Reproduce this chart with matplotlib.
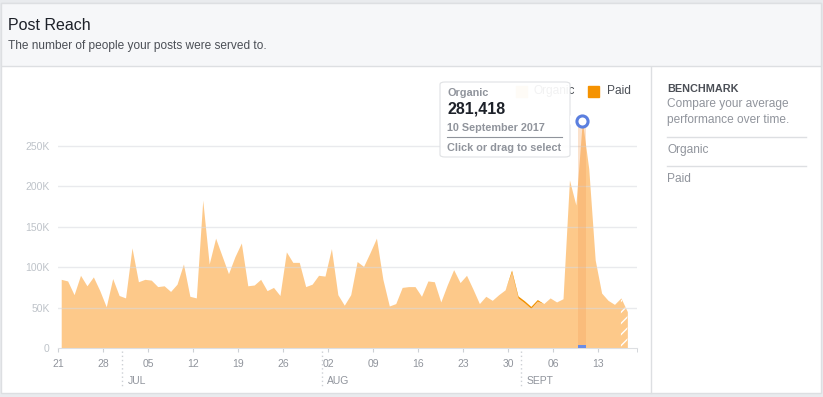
import matplotlib
matplotlib.use("Agg")
import matplotlib.pyplot as plt
import matplotlib.transforms as mtransforms
from matplotlib.patches import Rectangle, FancyBboxPatch, Polygon
import numpy as np
import pandas as pd

plt.rcParams['font.family'] = ['Liberation Sans', 'DejaVu Sans']

# daily post reach, in thousands (21 Jun 2017 - 17 Sep 2017)
organic = [85, 83, 66, 90, 77, 88, 71, 51, 86, 65,
           62, 124, 82, 85, 84, 76, 77, 70, 79, 104,
           64, 62, 183, 104, 136, 114, 92, 113, 130, 77,
           78, 85, 71, 75, 65, 119, 106, 106, 76, 79,
           90, 89, 123, 66, 53, 66, 107, 101, 118, 136,
           85, 52, 55, 75, 76, 76, 64, 83, 82, 57,
           78, 97, 81, 90, 73, 55, 64, 59, 66, 72,
           94, 62, 56, 49, 58, 55, 62, 57, 61, 208,
           177, 281.418, 222, 109, 68, 59, 54, 62, 45]
paid = [0] * 89
for i, v in zip(range(70, 75), [2.5, 2.5, 2.5, 2.5, 2.0]):
    paid[i] = v

tick_labels = ['21', '28', '05', '12', '19', '26', '02', '09', '16', '23', '30', '06', '13']
months = ['JUL', 'AUG', 'SEPT']
month_starts = ['2017-07-01', '2017-08-01', '2017-09-01']
yticks = [0, 50, 100, 150, 200, 250]
ylabels = ['0', '50K', '100K', '150K', '200K', '250K']

W, H = 823, 397
fig = plt.figure(figsize=(W / 100, H / 100), dpi=100)
fig.patch.set_facecolor('white')


def fx(x):
    return x / W


def fy(y):
    return 1 - y / H


# page frame
fig.patches.append(Rectangle((0, 0), 1, 1, transform=fig.transFigure, color='#e9ebee', zorder=-10))
fig.patches.append(Rectangle((fx(1), fy(393)), fx(820), (393 - 3) / H, transform=fig.transFigure,
                             facecolor='white', edgecolor='#dddfe2', lw=1, zorder=-9))
fig.patches.append(Rectangle((fx(1), fy(66)), fx(820), (66 - 3) / H, transform=fig.transFigure,
                             facecolor='#f6f7f9', edgecolor='#dddfe2', lw=1, zorder=-8))
fig.lines.append(plt.Line2D([fx(651), fx(651)], [fy(67), fy(393)], transform=fig.transFigure,
                            color='#dddfe2', lw=1))

fig.text(fx(8), fy(26), 'Post Reach', fontsize=11.5, color='#1d2129', va='center')
fig.text(fx(8), fy(46), 'The number of people your posts were served to.', fontsize=8.6,
         color='#4b4f56', va='center')

# benchmark panel
fig.text(fx(667), fy(89), 'BENCHMARK', fontsize=7.8, weight='bold', color='#4b4f56', va='center')
fig.text(fx(667), fy(104), 'Compare your average', fontsize=8.6, color='#90949c', va='center')
fig.text(fx(667), fy(120), 'performance over time.', fontsize=8.6, color='#90949c', va='center')
fig.lines.append(plt.Line2D([fx(667), fx(806)], [fy(137), fy(137)], transform=fig.transFigure,
                            color='#dddfe2', lw=1))
fig.text(fx(667), fy(150), 'Organic', fontsize=8.6, color='#90949c', va='center')
fig.lines.append(plt.Line2D([fx(667), fx(806)], [fy(166), fy(166)], transform=fig.transFigure,
                            color='#dddfe2', lw=1))
fig.text(fx(667), fy(179), 'Paid', fontsize=8.6, color='#90949c', va='center')

# chart
ax = fig.add_axes([fx(58), fy(348), (637 - 58) / W, (348 - 100) / H])
dates = pd.date_range('2017-06-21 12:00', periods=len(organic), freq='D')
org = np.array(organic) * 1000
top = org + np.array(paid) * 1000
light = '#fdc98a'
ax.fill_between(dates, 0, org, color=light, lw=0, zorder=2)
ax.fill_between(dates, org, top, color='#f29100', lw=0, zorder=3)
ax.fill_between(dates[-2:], 0, org[-2:], facecolor='none', edgecolor='white', hatch='///',
                lw=0, zorder=3)

# hover highlight for 10 Sep
hl = dates[81]
ax.bar(hl, org[81], width=1.3, color='#f5a15a', alpha=0.3, zorder=4, lw=0)
ax.bar(hl, 3500, width=1.3, color='#6a8ce6', zorder=5, lw=0, clip_on=False)
ax.plot([hl], [org[81]], 'o', ms=8, mfc='white', mec='#5b7fdf', mew=2.2, zorder=6, clip_on=False)

ax.set_xlim(pd.Timestamp('2017-06-21'), pd.Timestamp('2017-09-19'))
ax.set_ylim(0, 307000)
ticks = pd.date_range('2017-06-21', periods=len(tick_labels), freq='7D')
ax.set_xticks(ticks)
ax.set_xticklabels(tick_labels)
ax.set_xticks([pd.Timestamp('2017-09-19')], minor=True)
ax.set_yticks([v * 1000 for v in yticks])
ax.set_yticklabels(ylabels)
ax.tick_params(axis='x', which='both', length=3, color='#ccd0d5', labelsize=7.5, labelcolor='#90949c', pad=5)
ax.tick_params(axis='y', length=0, labelsize=7.5, labelcolor='#bec3c9', pad=6)
# grid sits over the area, faintly
for v in yticks[1:]:
    ax.axhline(v * 1000, color='#d8dadf', alpha=0.55, lw=1, zorder=3.5)
for s in ['top', 'right', 'left']:
    ax.spines[s].set_visible(False)
ax.spines['bottom'].set_color('#dddfe2')
ax.patch.set_alpha(0)

trans = mtransforms.blended_transform_factory(ax.transData, ax.transAxes)
for m, d in zip(months, month_starts):
    t = pd.Timestamp(d)
    ax.plot([t, t], [-0.012, -0.161], transform=trans, color='#ccd0d5', lw=1, ls=(0, (1, 2)),
            clip_on=False)
    ax.text(t + pd.Timedelta(hours=20), -0.133, m, transform=trans, fontsize=7.5, color='#90949c',
            va='center', ha='left')

# legend
fig.patches.append(Rectangle((fx(516), fy(97)), 11 / W, 11 / H, transform=fig.transFigure,
                             color=light, zorder=5))
fig.text(fx(534), fy(91), 'Organic', fontsize=8.6, color='#4b4f56', va='center', zorder=5)
fig.patches.append(Rectangle((fx(588), fy(97)), 11 / W, 11 / H, transform=fig.transFigure,
                             color='#f59200', zorder=5))
fig.text(fx(607), fy(91), 'Paid', fontsize=8.6, color='#4b4f56', va='center', zorder=5)

# tooltip
fig.patches.append(FancyBboxPatch((fx(440), fy(157)), (570 - 440) / W, (157 - 82) / H,
                                  boxstyle='round,pad=0,rounding_size=0.006', transform=fig.transFigure,
                                  facecolor='white', edgecolor='#dddfe2', lw=0.8, alpha=0.93, zorder=10))
fig.patches.append(Polygon([(fx(570), fy(115)), (fx(575), fy(120)), (fx(570), fy(125))],
                           closed=True, transform=fig.transFigure, facecolor='white',
                           edgecolor='none', zorder=11))
fig.text(fx(447), fy(93), 'Organic', fontsize=7.8, weight='bold', color='#90949c', va='center', zorder=12)
fig.text(fx(447), fy(109), '281,418', fontsize=11.5, weight='bold', color='#1d2129', va='center', zorder=12)
fig.text(fx(447), fy(128), '10 September 2017', fontsize=7.8, weight='bold', color='#90949c',
         va='center', zorder=12)
fig.lines.append(plt.Line2D([fx(447), fx(562)], [fy(137), fy(137)], transform=fig.transFigure,
                            color='#90949c', lw=0.8, zorder=12))
fig.text(fx(447), fy(148), 'Click or drag to select', fontsize=7.8, weight='bold', color='#90949c',
         va='center', zorder=12)

fig.savefig('out.png', dpi=100)
